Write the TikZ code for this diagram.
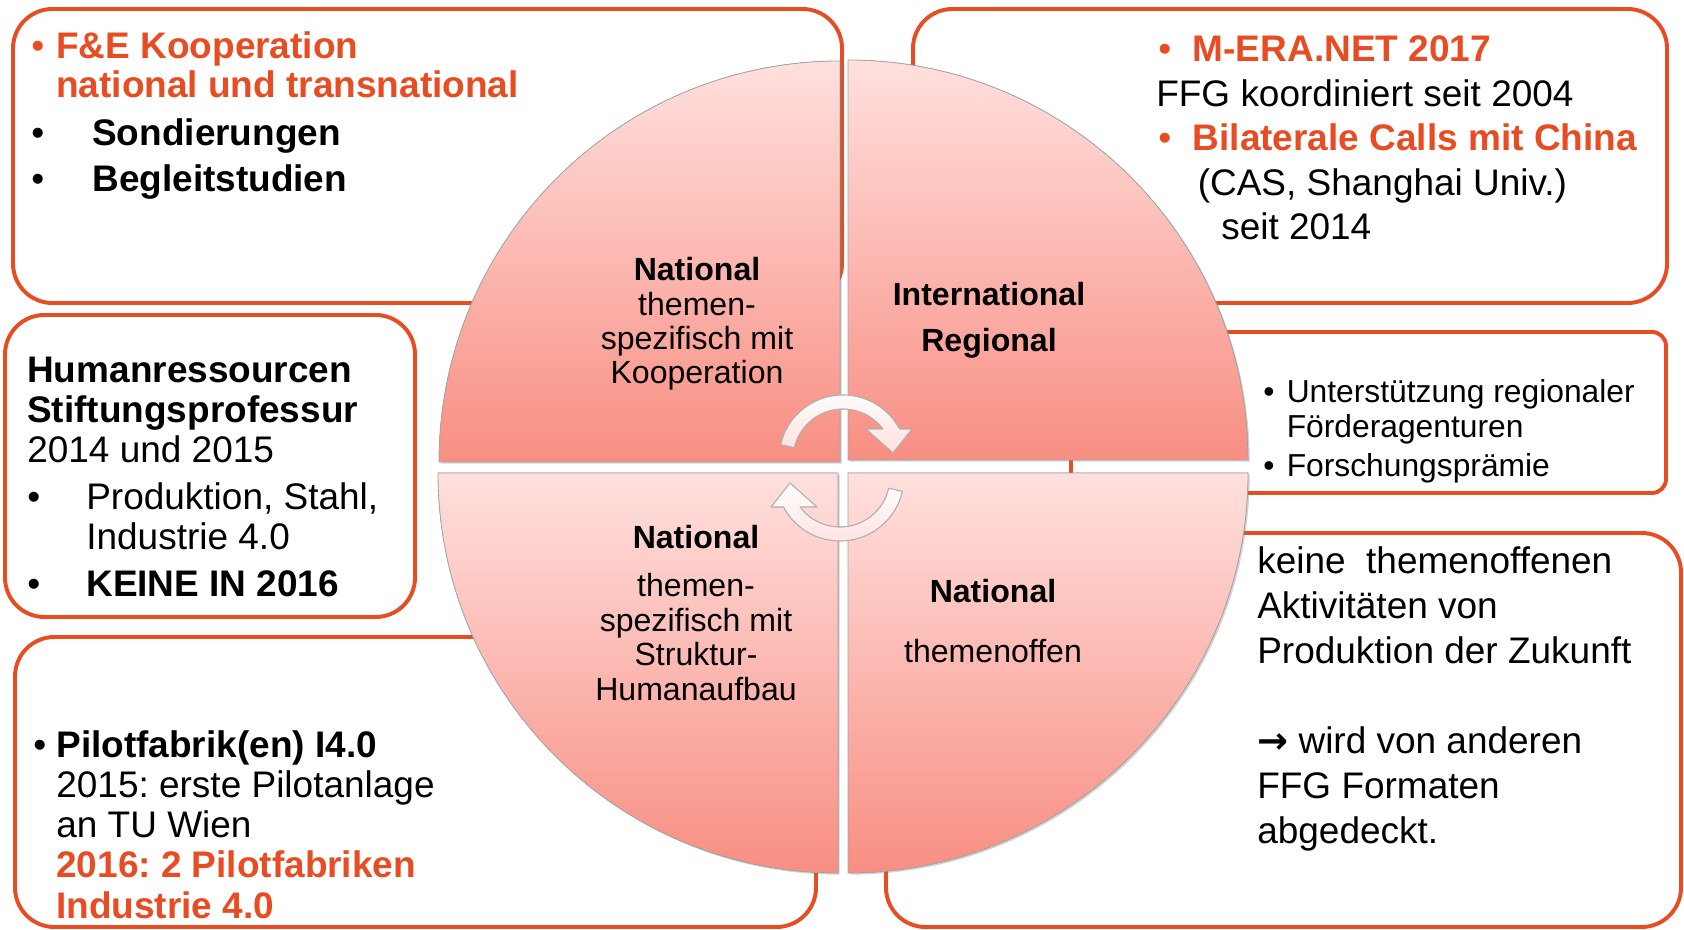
\documentclass[tikz,border=0pt]{standalone}
\usepackage{fontspec}
\setmainfont{Liberation Sans}
\newfontfamily\arrowfont{DejaVu Sans}
\frenchspacing
\usetikzlibrary{shadows}

\begin{document}
\begin{tikzpicture}
[x=0.025cm,y=0.025cm,line join=round,
% Styles
info box/.style={draw=ffgred,line width=2.8pt,rounded corners=28pt},
quarter/.style={draw=gray!70,line width=0.6pt,top color=quadtop,bottom color=quadbottom,
  drop shadow={opacity=0.35,shadow xshift=1.2pt,shadow yshift=-1.2pt}},
cycle arrow/.style={draw=gray!60,line width=0.8pt,top color=white,bottom color=quadtop},
box text/.style={anchor=base west,align=left,inner sep=0pt,font=\fontsize{26.3}{27.7}\selectfont},
circle text/.style={anchor=base,align=center,inner sep=0pt,font=\fontsize{22.8}{24.5}\selectfont}]
% Colors
\definecolor{ffgred}{RGB}{232,76,34}
\definecolor{quadtop}{RGB}{255,224,222}
\definecolor{quadbottom}{RGB}{248,142,130}

\useasboundingbox (0,0) rectangle (1684,929);

% The boxes
\draw[info box] (13,626) rectangle (842,920);
\draw[info box] (913,626) rectangle (1667,920);
\draw[info box] (5,312) rectangle (415,614);
\draw[info box,rounded corners=10pt] (1071,436) rectangle (1666,597);
\draw[info box] (15,2) rectangle (816,292);
\draw[info box] (886,2) rectangle (1681,396);

% The circle
\filldraw[quarter] (840,467) -- (439,467) arc[start angle=180,end angle=90,radius=401] -- cycle;
\filldraw[quarter] (848,469) -- (848,869) arc[start angle=90,end angle=0,radius=400] -- cycle;
\filldraw[quarter] (838,456) -- (438,456) arc[start angle=180,end angle=270,radius=400] -- cycle;
\filldraw[quarter] (848,456) -- (1248,456) arc[start angle=0,end angle=-90,radius=400] -- cycle;

% Cycle arrows
\filldraw[cycle arrow,shift={(843,470)}]
  (167:64) arc[start angle=167,end angle=28,radius=64] -- (69,30) -- (50,6) -- (23,30)
  -- (36.87:50) arc[start angle=36.87,end angle=167,radius=50] -- cycle;
\filldraw[cycle arrow,shift={(840,452)},rotate=180]
  (167:64) arc[start angle=167,end angle=28,radius=64] -- (69,30) -- (50,6) -- (23,30)
  -- (36.87:50) arc[start angle=36.87,end angle=167,radius=50] -- cycle;

% Circle texts (placed at the baseline of their last line)
\node[circle text] (natKoop) at (697,545)
  {\textbf{National}\\themen-\\spezifisch mit\\Kooperation};
\node[circle text] (intReg) at (989,577)
  {\textbf{International}\\[8.9pt]\textbf{Regional}};
\node[circle text] (natStruktur) at (696,229)
  {\textbf{National}\\[10pt]themen-\\spezifisch mit\\Struktur-\\Humanaufbau};
\node[circle text] (natOffen) at (993,266)
  {\textbf{National}\\[18.2pt]themenoffen};

% Box texts (placed at the baseline of their last line)
\node[box text] (kooperation) at (31,737)
  {\textcolor{ffgred}{\makebox[17.8pt][l]{•}\textbf{F\&E Kooperation}}\\
   \hspace*{17.8pt}\textcolor{ffgred}{\textbf{national und transnational}}\\[6.4pt]
   \makebox[43.4pt][l]{•}\textbf{Sondierungen}\\[5.7pt]
   \makebox[43.4pt][l]{•}\textbf{Begleitstudien}};
\node[box text,font=\fontsize{26.3}{31.7}\selectfont] (international) at (1156,689)
  {\textcolor{ffgred}{\makebox[26pt][l]{\hspace*{1.4pt}•}\textbf{M-ERA.NET 2017}}\\
   FFG koordiniert seit 2004\\
   \textcolor{ffgred}{\makebox[26pt][l]{\hspace*{1.4pt}•}\textbf{Bilaterale Calls mit China}}\\
   \hspace*{29.5pt}(CAS, Shanghai Univ.)\\
   \hspace*{46.2pt}seit 2014};
\node[box text,font=\fontsize{26.3}{28.45}\selectfont] (human) at (27,332)
  {\textbf{Humanressourcen}\\
   \textbf{Stiftungsprofessur}\\
   2014 und 2015\\[5pt]
   \makebox[42pt][l]{•}Produktion, Stahl,\\
   \hspace*{42pt}Industrie 4.0\\[5pt]
   \makebox[42pt][l]{•}\textbf{KEINE IN 2016}};
\node[box text,font=\fontsize{22.6}{24.9}\selectfont] (regional) at (1263,452)
  {\makebox[16.7pt][l]{•}Unterstützung regionaler\\
   \hspace*{16.7pt}Förderagenturen\\[3.5pt]
   \makebox[16.7pt][l]{•}Forschungsprämie};
\node[box text,font=\fontsize{26.3}{28.45}\selectfont] (pilot) at (33,11)
  {\makebox[16.4pt][l]{•}\textbf{Pilotfabrik(en) I4.0}\\
   \hspace*{16.4pt}2015: erste Pilotanlage\\
   \hspace*{16.4pt}an TU Wien\\
   \hspace*{16.4pt}\textcolor{ffgred}{\textbf{2016: 2 Pilotfabriken}}\\
   \hspace*{16.4pt}\textcolor{ffgred}{\textbf{Industrie 4.0}}};
\node[box text,font=\fontsize{26.3}{32}\selectfont] (offen) at (1257,86)
  {keine\ \ themenoffenen\\
   Aktivitäten von\\
   Produktion der Zukunft\\[32pt]
   {\arrowfont\bfseries →}\ wird von anderen\\
   FFG Formaten\\
   abgedeckt.};
\end{tikzpicture}
\end{document}
